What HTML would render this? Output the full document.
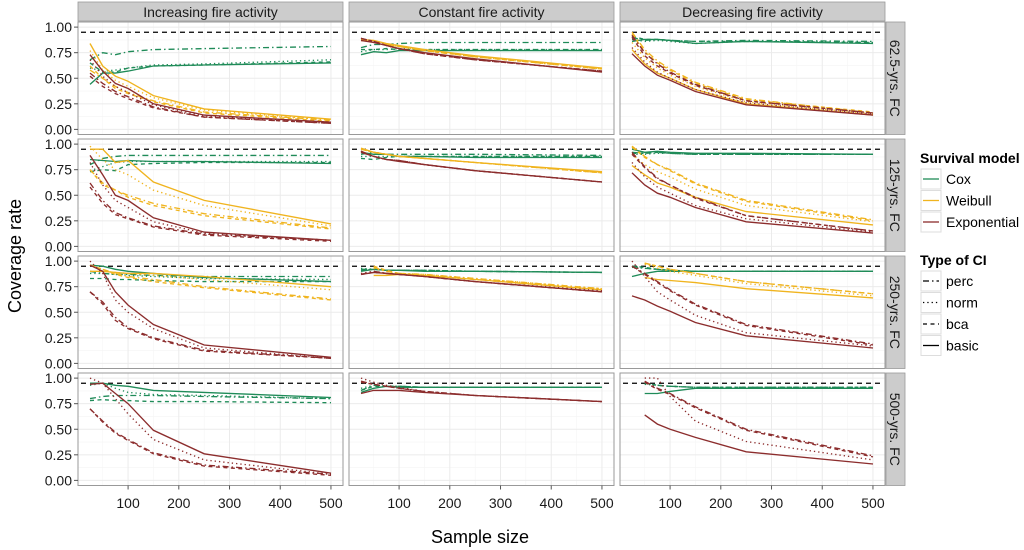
<!DOCTYPE html>
<html><head><meta charset="utf-8"><style>
html,body{margin:0;padding:0;background:#fff;}
svg{display:block;font-family:"Liberation Sans",sans-serif;}
</style></head><body>
<svg id="chart" width="1024" height="550" viewBox="0 0 1024 550"></svg>
<script>
const sampleSizes=[25,50,75,100,150,250,500];
const xTicks=[100,200,300,400,500];
const yTicks=[0,0.25,0.5,0.75,1];
const yTickLabels=["0.00","0.25","0.50","0.75","1.00"];
const colTitles=["Increasing fire activity","Constant fire activity","Decreasing fire activity"];
const rowTitles=["62.5-yrs. FC","125-yrs. FC","250-yrs. FC","500-yrs. FC"];
const models=["Cox","Weibull","Exponential"];
const ciTypes=["perc","norm","bca","basic"];
const nominal=0.95;
const N=null;
// each: [perc, norm, bca, basic]
const cox_r1c1=[[0.68,0.75,0.73,0.76,0.78,0.79,0.81],[0.6,0.57,0.58,0.6,0.63,0.64,0.68],[0.65,0.56,0.56,0.6,0.62,0.63,0.66],[0.44,0.55,0.55,0.57,0.62,0.63,0.65]];
const wei_r1c1=[[0.58,0.5,0.42,0.36,0.28,0.17,0.09],[0.77,0.58,0.48,0.42,0.31,0.19,0.09],[0.62,0.5,0.4,0.35,0.27,0.16,0.08],[0.84,0.62,0.52,0.47,0.33,0.2,0.1]];
const exp_r1c1=[[0.55,0.45,0.37,0.32,0.22,0.12,0.06],[0.68,0.52,0.42,0.36,0.24,0.13,0.07],[0.52,0.42,0.35,0.3,0.21,0.12,0.06],[0.73,0.57,0.45,0.4,0.25,0.14,0.07]];
const cox_r1c2=[[0.8,0.83,0.83,0.84,0.85,0.85,0.85],[0.76,0.78,0.78,0.79,0.78,0.78,0.78],[0.78,0.78,0.79,0.78,0.78,0.78,0.78],[0.73,0.76,0.75,0.77,0.77,0.77,0.77]];
const wei_r1c2=[[0.87,0.86,0.83,0.81,0.77,0.71,0.59],[0.87,0.86,0.83,0.81,0.77,0.71,0.59],[0.87,0.86,0.83,0.81,0.77,0.71,0.59],[0.88,0.87,0.84,0.82,0.78,0.72,0.6]];
const exp_r1c2=[[0.89,0.86,0.82,0.79,0.74,0.68,0.57],[0.89,0.86,0.82,0.79,0.74,0.68,0.57],[0.89,0.86,0.82,0.79,0.74,0.68,0.57],[0.87,0.85,0.82,0.79,0.75,0.69,0.56]];
const cox_r1c3=[[0.9,0.87,0.88,0.87,0.86,0.87,0.86],[0.88,0.86,0.87,0.86,0.84,0.86,0.85],[0.91,0.88,0.88,0.87,0.86,0.86,0.85],[0.86,0.88,0.88,0.87,0.84,0.86,0.84]];
const wei_r1c3=[[0.95,0.78,0.67,0.59,0.46,0.3,0.16],[0.85,0.7,0.6,0.53,0.42,0.27,0.15],[0.93,0.76,0.65,0.58,0.45,0.29,0.17],[0.78,0.64,0.55,0.5,0.39,0.25,0.14]];
const exp_r1c3=[[0.92,0.75,0.64,0.56,0.44,0.28,0.16],[0.8,0.66,0.56,0.5,0.39,0.26,0.15],[0.9,0.72,0.62,0.55,0.43,0.28,0.16],[0.74,0.62,0.53,0.48,0.37,0.24,0.14]];
const cox_r2c1=[[0.8,0.86,0.88,0.89,0.89,0.89,0.89],[0.74,0.78,0.82,0.83,0.83,0.83,0.83],[0.73,0.75,0.74,0.8,0.81,0.82,0.82],[0.85,0.84,0.83,0.84,0.83,0.83,0.81]];
const wei_r2c1=[[0.75,0.62,0.55,0.5,0.42,0.32,0.18],[0.98,0.85,0.75,0.7,0.55,0.4,0.2],[0.75,0.6,0.55,0.48,0.4,0.3,0.17],[0.95,0.95,0.82,0.84,0.63,0.45,0.22]];
const exp_r2c1=[[0.62,0.45,0.33,0.28,0.2,0.12,0.06],[0.82,0.6,0.45,0.38,0.24,0.13,0.06],[0.58,0.42,0.31,0.27,0.19,0.11,0.05],[0.89,0.7,0.5,0.45,0.28,0.14,0.06]];
const cox_r2c2=[[0.9,0.92,0.9,0.9,0.9,0.9,0.89],[0.88,0.88,0.88,0.88,0.88,0.88,0.88],[0.86,0.85,0.87,0.88,0.88,0.88,0.88],[0.92,0.9,0.9,0.88,0.88,0.87,0.87]];
const wei_r2c2=[[0.95,0.92,0.9,0.88,0.86,0.82,0.72],[0.95,0.92,0.9,0.88,0.86,0.82,0.72],[0.95,0.92,0.9,0.88,0.86,0.82,0.72],[0.96,0.92,0.9,0.88,0.86,0.82,0.73]];
const exp_r2c2=[[0.93,0.88,0.85,0.84,0.8,0.74,0.63],[0.93,0.88,0.85,0.84,0.8,0.74,0.63],[0.93,0.88,0.85,0.84,0.8,0.74,0.63],[0.92,0.88,0.85,0.83,0.8,0.74,0.63]];
const cox_r2c3=[[0.92,0.91,0.92,0.91,0.9,0.9,0.9],[0.9,0.9,0.91,0.91,0.9,0.9,0.9],[0.91,0.91,0.92,0.91,0.9,0.9,0.9],[0.95,0.92,0.93,0.92,0.91,0.91,0.9]];
const wei_r2c3=[[0.98,0.88,0.8,0.75,0.62,0.45,0.26],[0.9,0.8,0.73,0.68,0.56,0.4,0.24],[0.97,0.87,0.8,0.74,0.61,0.44,0.25],[0.79,0.7,0.62,0.58,0.48,0.34,0.21]];
const exp_r2c3=[[0.92,0.78,0.67,0.6,0.48,0.3,0.15],[0.82,0.68,0.58,0.52,0.4,0.27,0.14],[0.9,0.77,0.66,0.6,0.47,0.3,0.15],[0.72,0.6,0.52,0.48,0.38,0.24,0.13]];
const cox_r3c1=[[0.9,0.88,0.87,0.87,0.86,0.85,0.85],[0.88,0.88,0.87,0.86,0.85,0.83,0.82],[0.83,0.83,0.82,0.82,0.81,0.8,0.8],[0.96,0.95,0.92,0.9,0.88,0.84,0.8]];
const wei_r3c1=[[0.96,0.92,0.88,0.85,0.82,0.75,0.63],[0.96,0.9,0.89,0.88,0.86,0.82,0.72],[0.96,0.92,0.87,0.84,0.8,0.74,0.62],[0.9,0.9,0.89,0.88,0.88,0.85,0.75]];
const exp_r3c1=[[0.7,0.6,0.45,0.35,0.25,0.13,0.05],[1.0,0.88,0.62,0.5,0.34,0.15,0.05],[0.7,0.58,0.42,0.34,0.24,0.12,0.05],[0.96,0.9,0.7,0.57,0.38,0.18,0.06]];
const cox_r3c2=[[0.92,0.92,0.91,0.91,0.91,0.9,0.89],[0.93,0.92,0.91,0.91,0.91,0.9,0.89],[0.91,0.92,0.91,0.91,0.91,0.9,0.89],[0.9,0.92,0.91,0.91,0.9,0.9,0.89]];
const wei_r3c2=[[N,0.94,0.9,0.88,0.87,0.83,0.73],[N,0.93,0.9,0.88,0.87,0.83,0.73],[N,0.95,0.91,0.88,0.86,0.82,0.72],[N,0.86,0.86,0.87,0.86,0.82,0.72]];
const exp_r3c2=[[0.87,0.9,0.88,0.87,0.85,0.8,0.7],[0.88,0.9,0.88,0.87,0.85,0.8,0.71],[0.87,0.89,0.88,0.87,0.85,0.8,0.7],[0.87,0.89,0.88,0.87,0.85,0.8,0.7]];
const cox_r3c3=[[0.95,0.93,0.92,0.91,0.9,0.9,0.9],[0.94,0.93,0.92,0.91,0.9,0.9,0.9],[0.95,0.94,0.92,0.91,0.9,0.9,0.9],[0.85,0.88,0.9,0.9,0.9,0.9,0.9]];
const wei_r3c3=[[N,0.98,0.95,0.92,0.88,0.8,0.68],[N,0.97,0.93,0.9,0.86,0.78,0.66],[N,0.98,0.95,0.92,0.88,0.8,0.68],[N,0.84,0.82,0.81,0.79,0.73,0.64]];
const exp_r3c3=[[0.95,0.88,0.8,0.72,0.58,0.38,0.19],[1.0,0.85,0.7,0.62,0.47,0.3,0.17],[0.95,0.87,0.79,0.71,0.57,0.37,0.18],[0.66,0.62,0.56,0.51,0.4,0.27,0.15]];
const cox_r4c1=[[0.8,0.82,0.83,0.83,0.83,0.82,0.8],[0.93,0.95,0.9,0.86,0.84,0.83,0.8],[0.78,0.79,0.78,0.78,0.77,0.77,0.76],[0.95,0.95,0.93,0.92,0.88,0.86,0.81]];
const wei_r4c1=[[N,N,N,N,N,N,N],[N,N,N,N,N,N,N],[N,N,N,N,N,N,N],[N,N,N,N,N,N,N]];
const exp_r4c1=[[0.7,0.58,0.47,0.4,0.27,0.15,0.06],[1.0,0.95,0.8,0.65,0.4,0.2,0.06],[0.7,0.57,0.46,0.39,0.26,0.14,0.05],[0.94,0.95,0.85,0.75,0.49,0.26,0.07]];
const cox_r4c2=[[0.88,0.93,0.92,0.92,0.91,0.91,0.91],[0.9,0.93,0.92,0.92,0.91,0.91,0.91],[0.88,0.92,0.92,0.92,0.91,0.91,0.91],[0.86,0.9,0.92,0.91,0.91,0.91,0.91]];
const wei_r4c2=[[N,N,N,N,N,N,N],[N,N,N,N,N,N,N],[N,N,N,N,N,N,N],[N,N,N,N,N,N,N]];
const exp_r4c2=[[0.97,0.94,0.92,0.9,0.87,0.83,0.77],[1.0,0.96,0.93,0.91,0.87,0.83,0.77],[0.96,0.94,0.92,0.9,0.87,0.83,0.77],[0.85,0.88,0.88,0.88,0.86,0.83,0.77]];
const cox_r4c3=[[N,0.95,0.93,0.92,0.91,0.91,0.91],[N,0.94,0.93,0.92,0.91,0.91,0.91],[N,0.95,0.93,0.92,0.91,0.91,0.91],[N,0.85,0.85,0.87,0.9,0.9,0.9]];
const wei_r4c3=[[N,N,N,N,N,N,N],[N,N,N,N,N,N,N],[N,N,N,N,N,N,N],[N,N,N,N,N,N,N]];
const exp_r4c3=[[N,0.97,0.9,0.85,0.72,0.5,0.24],[N,1.0,1.0,0.82,0.58,0.38,0.2],[N,0.96,0.89,0.84,0.71,0.49,0.23],[N,0.64,0.55,0.5,0.42,0.28,0.16]];

const panels=[
 [[cox_r1c1,wei_r1c1,exp_r1c1],[cox_r1c2,wei_r1c2,exp_r1c2],[cox_r1c3,wei_r1c3,exp_r1c3]],
 [[cox_r2c1,wei_r2c1,exp_r2c1],[cox_r2c2,wei_r2c2,exp_r2c2],[cox_r2c3,wei_r2c3,exp_r2c3]],
 [[cox_r3c1,wei_r3c1,exp_r3c1],[cox_r3c2,wei_r3c2,exp_r3c2],[cox_r3c3,wei_r3c3,exp_r3c3]],
 [[cox_r4c1,wei_r4c1,exp_r4c1],[cox_r4c2,wei_r4c2,exp_r4c2],[cox_r4c3,wei_r4c3,exp_r4c3]]];

const colors=["#1f8b58","#f0b41f","#8c2d2d"];
const dashes=["6,3,1.5,3","1.3,3","4,3.5",""];
const svg=document.getElementById('chart');
const NS="http://www.w3.org/2000/svg";
function el(t,a,p){const e=document.createElementNS(NS,t);for(const k in a)e.setAttribute(k,a[k]);(p||svg).appendChild(e);return e;}
const colX=[78,349,620], pw=265, rowY=[22,139,256,373], ph=112.5;
const xMin=1.25,xMax=523.75,yMin=-0.05,yMax=1.05;
function sx(c,v){return colX[c]+(v-xMin)/(xMax-xMin)*pw;}
function sy(r,v){return rowY[r]+ph-(v-yMin)/(yMax-yMin)*ph;}

for(let c=0;c<3;c++){
  const g=el('g',{});
  
  
  el('rect',{x:colX[c],y:2,width:pw,height:19,fill:"#cccccc",stroke:"#999",'stroke-width':0.8},g);
  const t=el('text',{x:colX[c]+pw/2,y:17,'text-anchor':'middle','font-size':14,fill:'#1a1a1a'},g);t.textContent=colTitles[c];
}
for(let r=0;r<4;r++){
  const g=el('g',{});
  
  
  el('rect',{x:886,y:rowY[r],width:19,height:ph,fill:"#cccccc",stroke:"#999",'stroke-width':0.8},g);
  const t=el('text',{x:0,y:0,'text-anchor':'middle','font-size':14,fill:'#1a1a1a',transform:`translate(890,${rowY[r]+ph/2}) rotate(90)`},g);t.textContent=rowTitles[r];
}
for(let r=0;r<4;r++)for(let c=0;c<3;c++){
  const g=el('g',{});
  
  
  el('rect',{x:colX[c],y:rowY[r],width:pw,height:ph,fill:'#fff'},g);
  for(const v of [0.125,0.375,0.625,0.875])el('line',{x1:colX[c],x2:colX[c]+pw,y1:sy(r,v),y2:sy(r,v),stroke:'#f5f5f5','stroke-width':0.6},g);
  for(const v of [50,150,250,350,450])el('line',{x1:sx(c,v),x2:sx(c,v),y1:rowY[r],y2:rowY[r]+ph,stroke:'#f5f5f5','stroke-width':0.6},g);
  for(const v of yTicks)el('line',{x1:colX[c],x2:colX[c]+pw,y1:sy(r,v),y2:sy(r,v),stroke:'#ebebeb','stroke-width':1},g);
  for(const v of xTicks)el('line',{x1:sx(c,v),x2:sx(c,v),y1:rowY[r],y2:rowY[r]+ph,stroke:'#ebebeb','stroke-width':1},g);
  const ref=el('line',{x1:colX[c]+3,x2:colX[c]+pw-3,y1:sy(r,nominal),y2:sy(r,nominal),stroke:'#000','stroke-width':1.3,'stroke-dasharray':'5,4'},g);
  
  
  const P=panels[r][c];
  for(let m=0;m<3;m++)for(let k=0;k<4;k++){
    const vals=P[m][k];let d="";let started=false;
    vals.forEach((v,i)=>{if(v===null){started=false;return;}d+=(started?"L":"M")+sx(c,sampleSizes[i]).toFixed(1)+","+sy(r,v).toFixed(1);started=true;});
    if(!d)continue;
    const p=el('path',{d:d,fill:'none',stroke:colors[m],'stroke-width':1.35});
    if(dashes[k])p.setAttribute('stroke-dasharray',dashes[k]);
    
    
    g.appendChild(p);
  }
  el('rect',{x:colX[c],y:rowY[r],width:pw,height:ph,fill:'none',stroke:'#999','stroke-width':1},g);
  if(c===0){for(let i=0;i<yTicks.length;i++){const v=yTicks[i];
    el('line',{x1:colX[0]-4,x2:colX[0],y1:sy(r,v),y2:sy(r,v),stroke:'#555'});
    const t=el('text',{x:colX[0]-6,y:sy(r,v)+5,'text-anchor':'end','font-size':14,fill:'#1a1a1a'});t.textContent=yTickLabels[i];
    }}
  if(r===3){for(const v of xTicks){
    el('line',{x1:sx(c,v),x2:sx(c,v),y1:rowY[3]+ph,y2:rowY[3]+ph+4,stroke:'#555'});
    const t=el('text',{x:sx(c,v),y:508,'text-anchor':'middle','font-size':14,fill:'#1a1a1a'});t.textContent=v;
    }}
}
let t=el('text',{x:0,y:0,'text-anchor':'middle','font-size':18,fill:'#000',transform:'translate(21,256) rotate(-90)'});t.textContent="Coverage rate";

t=el('text',{x:480,y:543,'text-anchor':'middle','font-size':18,fill:'#000'});t.textContent="Sample size";

// legends
const lg=el('g',{});
t=el('text',{x:920,y:163,'font-size':14,'font-weight':'bold'},lg);t.textContent="Survival model";
models.forEach((m,i)=>{const y=169+i*21.5;
  el('rect',{x:921,y:y,width:20,height:20,fill:'#fff',stroke:'#ddd'},lg);
  el('line',{x1:923,x2:939,y1:y+10,y2:y+10,stroke:colors[i],'stroke-width':1.3},lg);
  const tt=el('text',{x:946,y:y+15,'font-size':14},lg);tt.textContent=m;
  });
const lg2=el('g',{});
t=el('text',{x:920,y:265,'font-size':14,'font-weight':'bold'},lg2);t.textContent="Type of CI";
ciTypes.forEach((m,i)=>{const y=271+i*21.5;
  el('rect',{x:921,y:y,width:20,height:20,fill:'#fff',stroke:'#ddd'},lg2);
  const l=el('line',{x1:923,x2:939,y1:y+10,y2:y+10,stroke:'#000','stroke-width':1.3},lg2);
  if(dashes[i])l.setAttribute('stroke-dasharray',dashes[i]);
  const tt=el('text',{x:946,y:y+15,'font-size':14},lg2);tt.textContent=m;
  });
</script>
</body></html>
